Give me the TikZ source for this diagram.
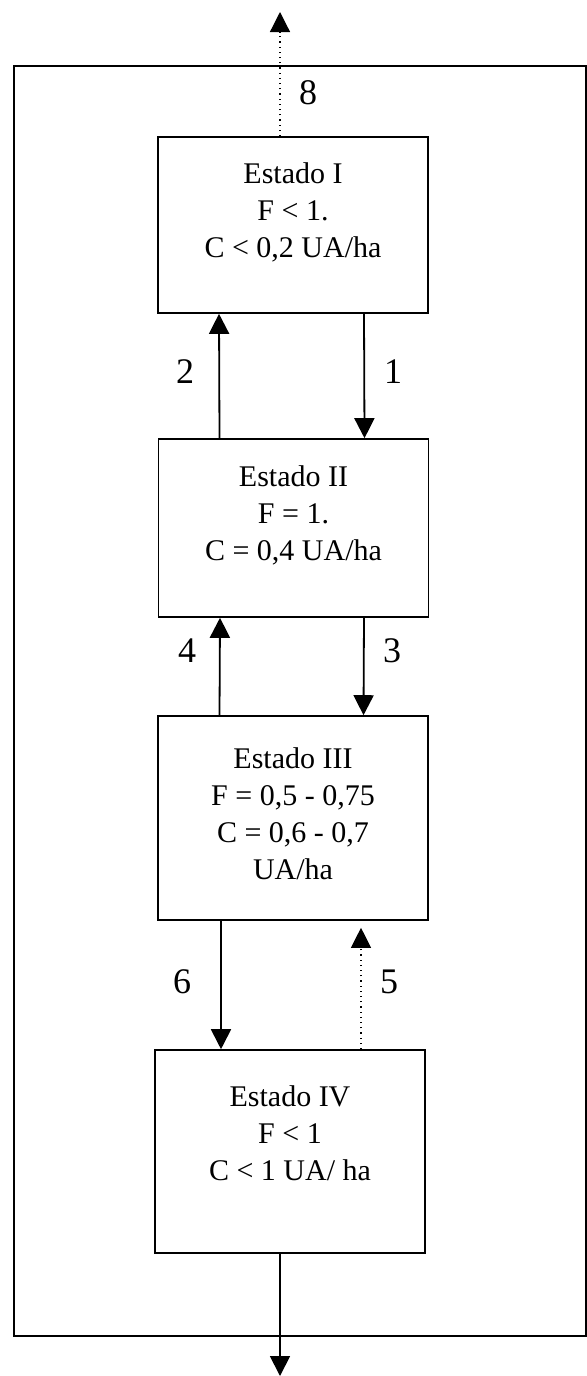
\documentclass[tikz,border=0pt]{standalone}
\usepackage{fontspec}
\setmainfont{Liberation Serif}
\usetikzlibrary{arrows.meta}
\begin{document}
\begin{tikzpicture}[x=1pt,y=1pt,
        estado/.style={draw, line width=0.8pt, minimum width=135pt, inner sep=0pt},
        txt/.style={align=center, font=\fontsize{15}{18.5}\selectfont},
        lbl/.style={font=\fontsize{18}{20}\selectfont, inner sep=0pt},
        flecha/.style={line width=0.9pt, -{Triangle[length=10pt,width=10pt]}},
        punteada/.style={line width=0.6pt, dotted, -{Triangle[length=10pt,width=10pt]}}]
        \useasboundingbox (0,0) rectangle (293.5,-688);
        %outer frame
        \node[draw, line width=0.8pt, minimum width=286pt, minimum height=635pt, inner sep=0pt] (marco) at (150,-350.5) {};

        %the four states
        \node[estado, minimum height=88pt] (s1) at (146.5,-112.5) {};
        \node[estado, minimum height=89pt] (s2) at (146.75,-264) {};
        \node[estado, minimum height=102pt] (s3) at (146.5,-409) {};
        \node[estado, minimum height=101.5pt] (s4) at (145,-575.75) {};

        \node[txt] (t1) at (146.5,-106) {Estado I\\F < 1.\\C < 0,2 UA/ha};
        \node[txt] (t2) at (146.75,-257.5) {Estado II\\F = 1.\\C = 0,4 UA/ha};
        \node[txt] (t3) at (146.5,-406.75) {Estado III\\F = 0,5 - 0,75\\C = 0,6 - 0,7\\UA/ha};
        \node[txt] (t4) at (145,-566.5) {Estado IV\\F < 1\\C < 1 UA/ ha};

        \coordinate (arriba) at (140,-6);
        \coordinate (abajo) at (140,-688);

        %transitions
        \draw[punteada] ([xshift=-6.5pt]s1.north) -- (arriba);
        \draw[flecha] ([xshift=-37pt]s2.north) -- ([xshift=-37pt]s1.south);
        \draw[flecha] ([xshift=35.5pt]s1.south) -- ([xshift=35.5pt]s2.north);
        \draw[flecha] ([xshift=-36.75pt]s3.north) -- ([xshift=-36.75pt]s2.south);
        \draw[flecha] ([xshift=35.25pt]s2.south) -- ([xshift=35.25pt]s3.north);
        \draw[flecha] ([xshift=-36pt]s3.south) -- ([xshift=-36pt]s3.south |- s4.north);
        \draw[punteada, shorten >=3.5pt] ([xshift=35.5pt]s4.north) -- ([xshift=35.5pt]s4.north |- s3.south);
        \draw[flecha] ([xshift=-5pt]s4.south) -- (abajo);

        \node[lbl] (n8) at (154,-46.5) {8};
        \node[lbl] (n2) at (92.5,-186) {2};
        \node[lbl] (n1) at (196.5,-186) {1};
        \node[lbl] (n4) at (93.5,-325.5) {4};
        \node[lbl] (n3) at (196,-325.5) {3};
        \node[lbl] (n6) at (91,-491) {6};
        \node[lbl] (n5) at (194.5,-491) {5};
    \end{tikzpicture}
\end{document}
